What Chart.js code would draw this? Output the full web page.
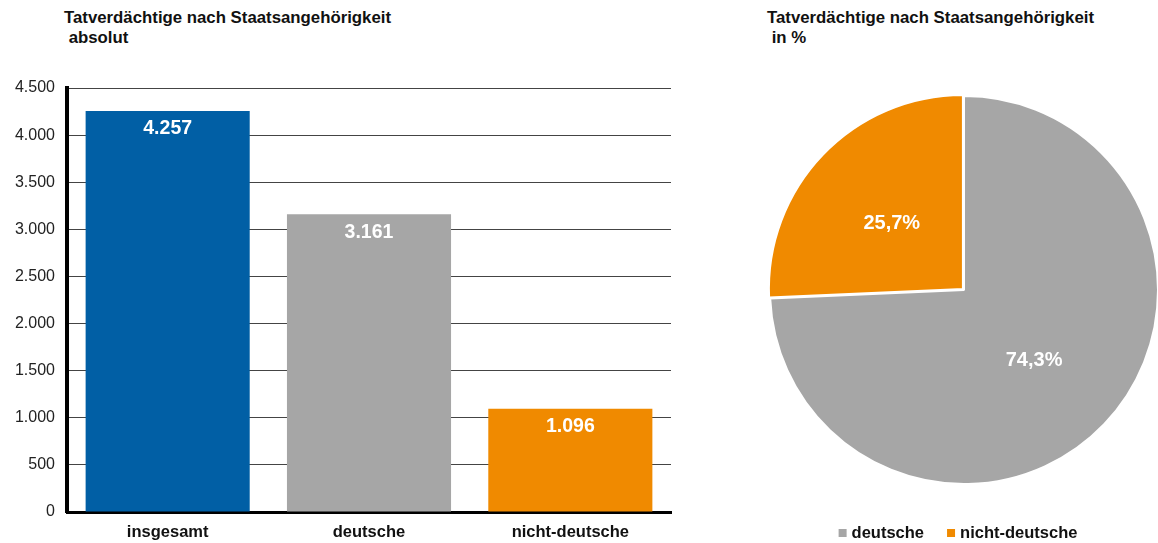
<!DOCTYPE html>
<html>
<head>
<meta charset="utf-8">
<script src="https://cdn.jsdelivr.net/npm/chart.js@4"></script>
<style>
  html, body { margin: 0; padding: 0; background: #fff; overflow: hidden; }
  body { width: 1158px; height: 543px; position: relative; font-family: "Liberation Sans", Arial, sans-serif; }
  .title { position: absolute; top: 8px; font-weight: bold; font-size: 16.8px; line-height: 20px; color: #111; white-space: pre; }
  #barWrap { position: absolute; left: 0; top: 0; width: 680px; height: 543px; }
  #pieWrap { position: absolute; left: 761px; top: 0; width: 406px; height: 543px; }
</style>
</head>
<body>
<div class="title" style="left:64px">Tatverdächtige nach Staatsangehörigkeit
 absolut</div>
<div class="title" style="left:767px">Tatverdächtige nach Staatsangehörigkeit
 in %</div>
<div id="barWrap"><canvas id="barChart"></canvas></div>
<div id="pieWrap"><canvas id="pieChart"></canvas></div>
<script>
// Bar chart data
const barLabels = ["insgesamt", "deutsche", "nicht-deutsche"];
const barValues = [4257, 3161, 1096];
const barColors = ["#015FA5", "#A6A6A6", "#F08A00"];

// Pie chart data
const pieLabels = ["deutsche", "nicht-deutsche"];
const pieValues = [74.3, 25.7];
const pieColors = ["#A6A6A6", "#F08A00"];

const FONT = "'Liberation Sans', Arial, sans-serif";

// format numbers with dot as thousands separator
function fmt(n) {
    return String(Math.round(n)).replace(/\B(?=(\d{3})+(?!\d))/g, ".");
}

// white value labels inside the bars
const barLabelPlugin = {
    id: "barLabels",
    afterDatasetsDraw(chart) {
        const ctx = chart.ctx;
        const meta = chart.getDatasetMeta(0);
        ctx.save();
        ctx.fillStyle = "#fff";
        ctx.font = "bold 19.5px " + FONT;
        ctx.textAlign = "center";
        ctx.textBaseline = "middle";
        meta.data.forEach((bar, i) => {
            ctx.fillText(fmt(barValues[i]), bar.x, bar.y + 18);
        });
        ctx.restore();
    }
};

// percentage labels in the slices + legend under the pie
const pieLabelPlugin = {
    id: "pieLabels",
    afterDatasetsDraw(chart) {
        const ctx = chart.ctx;
        const meta = chart.getDatasetMeta(0);
        ctx.save();
        ctx.fillStyle = "#fff";
        ctx.font = "bold 20px " + FONT;
        ctx.textAlign = "center";
        ctx.textBaseline = "middle";
        meta.data.forEach((arc, i) => {
            const p = arc.tooltipPosition();
            ctx.fillText(pieValues[i].toFixed(1).replace(".", ",") + "%", p.x, p.y + 3);
        });

        // legend
        ctx.font = "bold 16.5px " + FONT;
        ctx.textAlign = "left";
        const box = 8, gap = 5, itemGap = 23;
        const widths = pieLabels.map(l => box + gap + ctx.measureText(l).width);
        const total = widths.reduce((a, b) => a + b, 0) + itemGap * (pieLabels.length - 1);
        let x = (chart.width / 2) - 6 - total / 2;
        const y = 533;
        pieLabels.forEach((l, i) => {
            ctx.fillStyle = pieColors[i];
            ctx.fillRect(x, y - box / 2, box, box);
            ctx.fillStyle = "#111";
            ctx.fillText(l, x + box + gap, y);
            x += widths[i] + itemGap;
        });
        ctx.restore();
    }
};

new Chart(document.getElementById("barChart"), {
    type: "bar",
    data: {
        labels: barLabels,
        datasets: [{
            data: barValues,
            backgroundColor: barColors,
            barPercentage: 0.815,
            categoryPercentage: 1
        }]
    },
    options: {
        responsive: true,
        maintainAspectRatio: false,
        animation: false,
        layout: { padding: { top: 88, right: 9, left: 0, bottom: 0 } },
        plugins: { legend: { display: false }, tooltip: { enabled: false } },
        scales: {
            x: {
                grid: { display: false },
                border: { color: "#000", width: 3 },
                ticks: { color: "#111", font: { family: FONT, size: 16.5, weight: "bold" }, padding: 3 },
                afterFit: s => { s.height = 31; }
            },
            y: {
                min: 0,
                max: 4500,
                ticks: {
                    stepSize: 500,
                    color: "#222",
                    font: { family: FONT, size: 16 },
                    padding: 12,
                    callback: v => fmt(v)
                },
                grid: { color: "#444", lineWidth: 1, drawTicks: false },
                border: { color: "#000", width: 4 },
                afterFit: s => { s.width = 67; }
            }
        }
    },
    plugins: [barLabelPlugin]
});

new Chart(document.getElementById("pieChart"), {
    type: "pie",
    data: {
        labels: pieLabels,
        datasets: [{
            data: pieValues,
            backgroundColor: pieColors,
            borderColor: "#fff",
            borderWidth: 2,
            offset: [0, 6]
        }]
    },
    options: {
        responsive: true,
        maintainAspectRatio: false,
        animation: false,
        layout: { padding: { top: 92, left: 5, right: 5, bottom: 55 } },
        plugins: {
            tooltip: { enabled: false },
            legend: { display: false }
        }
    },
    plugins: [pieLabelPlugin]
});
</script>
</body>
</html>
